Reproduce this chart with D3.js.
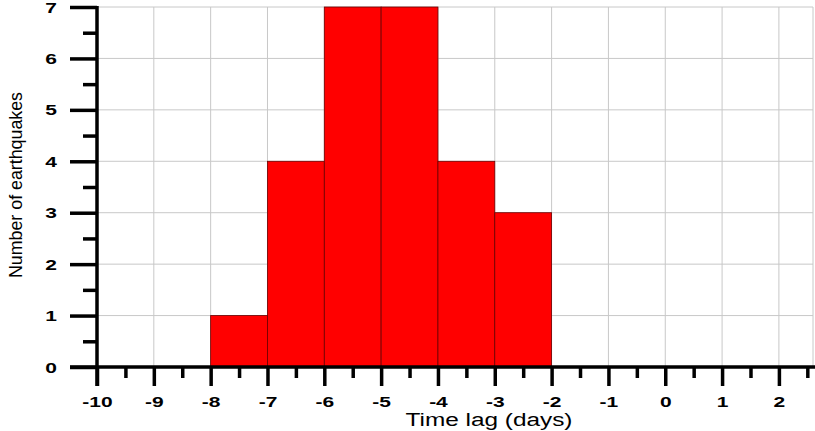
<!DOCTYPE html>
<html>
<head>
<meta charset="utf-8">
<script src="https://cdn.jsdelivr.net/npm/d3@7"></script>
<style>
  html, body { margin: 0; padding: 0; background: #fff; }
  svg { display: block; }
  text { font-family: Arial, "Liberation Sans", sans-serif; fill: #000; }
</style>
</head>
<body>
<svg id="chart" width="815" height="431"></svg>
<script>
// Data
const binStarts = [-8, -7, -6, -5, -4, -3];
const binEnds   = [-7, -6, -5, -4, -3, -2];
const counts    = [1, 4, 7, 7, 4, 3];
const xTickValues = [-10, -9, -8, -7, -6, -5, -4, -3, -2, -1, 0, 1, 2];
const yTickValues = [0, 1, 2, 3, 4, 5, 6, 7];
const xTitle = "Time lag (days)";
const yTitle = "Number of  earthquakes";

const svg = d3.select("#chart");
const x = d3.scaleLinear().domain([-10, 2.6]).range([97, 813]);
const y = d3.scaleLinear().domain([0, 7]).range([367, 7]);
const stretch = 1.5;

// grid
const g = svg.append("g");
xTickValues.filter(v => v > -10).forEach(v => {
  g.append("line").attr("x1", x(v)).attr("x2", x(v)).attr("y1", y(0)).attr("y2", y(7))
    .attr("stroke", "#c8c8c8").attr("stroke-width", 1);
});
g.append("line").attr("x1", x(2.6)).attr("x2", x(2.6)).attr("y1", y(0)).attr("y2", y(7))
  .attr("stroke", "#c8c8c8").attr("stroke-width", 1);
yTickValues.filter(v => v > 0).forEach(v => {
  g.append("line").attr("x1", x(-10)).attr("x2", x(2.6)).attr("y1", y(v)).attr("y2", y(v))
    .attr("stroke", "#c8c8c8").attr("stroke-width", 1);
});

// bars
svg.append("g").selectAll("rect").data(counts).join("rect")
  .attr("x", (d, i) => x(binStarts[i]))
  .attr("width", (d, i) => x(binEnds[i]) - x(binStarts[i]))
  .attr("y", d => y(d))
  .attr("height", d => y(0) - y(d))
  .attr("fill", "#ff0000")
  .attr("stroke", "#6a0000")
  .attr("stroke-width", 0.8);

// x axis
const minorX = d3.range(-9.5, 2.6, 1);
const xAxisMajor = d3.axisBottom(x).tickValues(xTickValues).tickSize(19).tickSizeOuter(0)
  .tickFormat(d => d < 0 ? "-" + Math.abs(d) : String(d));
const xa = svg.append("g").attr("transform", `translate(0,${y(0)})`).call(xAxisMajor);
xa.select(".domain").remove();
xa.selectAll(".tick line").attr("stroke", "#000").attr("stroke-width", 3.5);
xa.selectAll(".tick text").attr("font-size", 14).attr("font-weight", "bold")
  .attr("dy", 0).attr("y", 40)
  .attr("transform", `scale(${stretch},1)`);
const xaMinor = svg.append("g").attr("transform", `translate(0,${y(0)})`)
  .call(d3.axisBottom(x).tickValues(minorX).tickSize(11).tickFormat(""));
xaMinor.select(".domain").remove();
xaMinor.selectAll(".tick line").attr("stroke", "#000").attr("stroke-width", 3.5);

// y axis
const yAxisMajor = d3.axisLeft(y).tickValues(yTickValues).tickSize(27).tickSizeOuter(0)
  .tickFormat(d3.format("d"));
const ya = svg.append("g").attr("transform", `translate(${x(-10)},0)`).call(yAxisMajor);
ya.select(".domain").remove();
ya.selectAll(".tick line").attr("stroke", "#000").attr("stroke-width", 3.5);
ya.selectAll(".tick text").attr("font-size", 14).attr("font-weight", "bold")
  .attr("x", -40 / stretch).attr("dy", "0.36em")
  .attr("transform", `scale(${stretch},1)`);
const minorY = d3.range(0.5, 7, 1);
const yaMinor = svg.append("g").attr("transform", `translate(${x(-10)},0)`)
  .call(d3.axisLeft(y).tickValues(minorY).tickSize(14).tickFormat(""));
yaMinor.select(".domain").remove();
yaMinor.selectAll(".tick line").attr("stroke", "#000").attr("stroke-width", 3.5);

// axis lines
svg.append("line").attr("x1", x(-10) - 27).attr("x2", 815).attr("y1", y(0)).attr("y2", y(0))
  .attr("stroke", "#000").attr("stroke-width", 3.5);
svg.append("line").attr("x1", x(-10)).attr("x2", x(-10)).attr("y1", y(7) - 1).attr("y2", y(0) + 19)
  .attr("stroke", "#000").attr("stroke-width", 3.5);

// titles
svg.append("text").attr("x", 489).attr("y", 426).attr("text-anchor", "middle")
  .attr("font-size", 18).attr("textLength", 167).attr("lengthAdjust", "spacingAndGlyphs").text(xTitle);
svg.append("text").attr("transform", "translate(22,185) rotate(-90)").attr("text-anchor", "middle")
  .attr("font-size", 19).attr("textLength", 186).attr("lengthAdjust", "spacingAndGlyphs").text(yTitle);
</script>
</body>
</html>
